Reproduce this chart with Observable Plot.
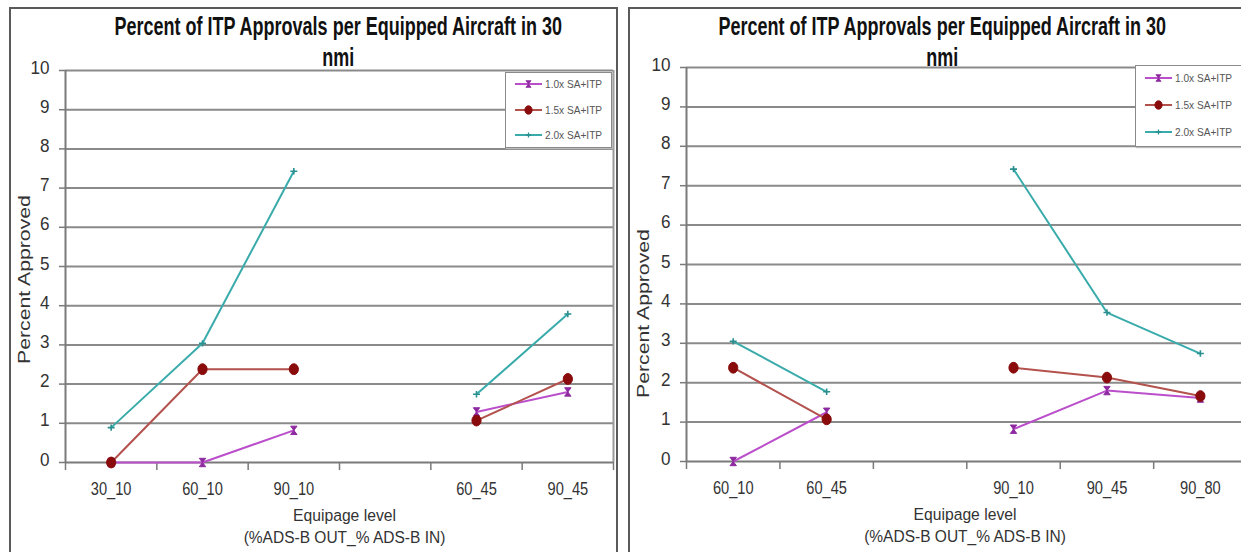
<!DOCTYPE html>
<html>
<head>
<meta charset="utf-8">
<script src="https://cdn.jsdelivr.net/npm/d3@7"></script>
<script src="https://cdn.jsdelivr.net/npm/@observablehq/plot@0.6"></script>
<style>
html,body{margin:0;padding:0;background:#fff;}
body{width:1241px;height:552px;overflow:hidden;position:relative;font-family:"Liberation Sans",Arial,Helvetica,sans-serif;}
.frame{position:absolute;border-left:2px solid #5a5a5a;border-top:2px solid #5a5a5a;border-right:2px solid #5a5a5a;box-sizing:border-box;}
.tline{position:absolute;width:700px;text-align:center;font-weight:bold;font-size:24px;line-height:24px;color:#111;white-space:nowrap;}
.tline span{display:inline-block;transform-origin:center center;}
.legend{position:absolute;border:1px solid #8a8a8a;background:#fff;box-shadow:1px 1px 1px #bbb;box-sizing:border-box;}
.lrow{position:absolute;left:9px;height:12px;display:flex;align-items:center;}
.lrow svg{display:block;}
.lrow span{font-size:11.5px;color:#555;display:inline-block;transform-origin:left center;transform:scaleX(0.88);white-space:nowrap;margin-left:3px;}
</style>
</head>
<body>
<script>
// ---------- data ----------
const seriesNames = ["1.0x SA+ITP", "1.5x SA+ITP", "2.0x SA+ITP"];
const seriesColors = ["#bb4fcb", "#b3514d", "#3aabab"];
const markerColors = ["#8e2aa0", "#8a0b0b", "#2a8f8f"];
const yTicks = [0, 1, 2, 3, 4, 5, 6, 7, 8, 9, 10];
const titleLine1 = "Percent of ITP Approvals per Equipped Aircraft in 30";
const titleLine2 = "nmi";
const yLabel = "Percent Approved";
const xLabel1 = "Equipage level";
const xLabel2 = "(%ADS-B OUT_% ADS-B IN)";

const leftCategories = ["30_10", "60_10", "90_10", "", "60_45", "90_45"];
const left10 = [0, 0, 0.82, null, 1.29, 1.8];
const left15 = [0, 2.38, 2.38, null, 1.07, 2.13];
const left20 = [0.89, 3.04, 7.43, null, 1.74, 3.79];

const rightCategories = ["60_10", "60_45", "", "90_10", "90_45", "90_80"];
const right10 = [0, 1.25, null, 0.82, 1.8, 1.61];
const right15 = [2.38, 1.07, null, 2.38, 2.13, 1.66];
const right20 = [3.05, 1.77, null, 7.42, 3.78, 2.74];

// ---------- marker symbols ----------
const hourglass = {draw(ctx) {
  ctx.moveTo(-3.2, -4.2); ctx.lineTo(3.2, -4.2); ctx.lineTo(-3.2, 4.2); ctx.lineTo(3.2, 4.2); ctx.closePath();
}};
const ellipse = {draw(ctx) {
  const rx = 4.6, ry = 5.4, k = 0.5523;
  ctx.moveTo(rx, 0);
  ctx.bezierCurveTo(rx, ry * k, rx * k, ry, 0, ry);
  ctx.bezierCurveTo(-rx * k, ry, -rx, ry * k, -rx, 0);
  ctx.bezierCurveTo(-rx, -ry * k, -rx * k, -ry, 0, -ry);
  ctx.bezierCurveTo(rx * k, -ry, rx, -ry * k, rx, 0);
  ctx.closePath();
}};
const plus = {draw(ctx) {
  ctx.moveTo(-3.5, 0); ctx.lineTo(3.5, 0); ctx.moveTo(0, -3.2); ctx.lineTo(0, 3.2);
}};
const symbols = [hourglass, ellipse, plus];

function squeeze(svg, targets) {
  for (const t of svg.querySelectorAll("text")) {
    const x = t.getAttribute("x"), y = t.getAttribute("y");
    let tr = t.getAttribute("transform") || "";
    if (x !== null || y !== null) {
      tr += ` translate(${+x || 0},${+y || 0})`;
      t.removeAttribute("x"); t.removeAttribute("y");
    }
    const rotated = /rotate/.test(tr);
    const g = t.closest("g[aria-label]");
    const lab = g ? g.getAttribute("aria-label") : "";
    let s = 0.82;
    if (/y-axis/.test(lab)) s = 0.9;
    else if (/x-axis/.test(lab)) s = 0.77;
    const txt = t.textContent;
    let along = rotated ? 1 : s;
    if (txt in targets) {
      const w = t.getBBox().width;
      if (w > 0) along = targets[txt] / w;
    }
    t.setAttribute("transform", `${tr} scale(${along},${rotated ? 0.8 : 1})`);
  }
}

function makePanel(cfg) {
  const {left, categories, series, marginLeft, marginTop, marginBottom, xDomain, plotEdge, yLabelDx, yLabelDy, xLabelDx, width} = cfg;
  const rows = [];
  series.forEach((vals, s) => vals.forEach((v, i) => rows.push({s, i, v})));
  const idx = categories.map((c, i) => i);
  const labelIdx = idx.filter(i => categories[i] !== "");
  const bounds = [...idx.map(i => i - 0.5), idx.length - 0.5];
  const marks = [
    Plot.ruleY(yTicks.slice(1), {stroke: "#8a8a8a", strokeWidth: 2}),
  ];
  if (plotEdge) marks.push(Plot.ruleX([bounds[bounds.length - 1]], {stroke: "#9a9a9a", strokeWidth: 2}));
  marks.push(
    Plot.ruleY([0], {stroke: "#7a7a7a", strokeWidth: 2}),
    Plot.ruleX([bounds[0]], {stroke: "#7a7a7a", strokeWidth: 2}),
    Plot.axisY({ticks: yTicks, tickSize: 6, tickFormat: () => "", stroke: "#7a7a7a", strokeWidth: 1.5, label: null}),
    Plot.axisY({ticks: yTicks, tickSize: 0, tickPadding: 16, dy: 3, fontSize: 19, fill: "#333", label: null}),
    Plot.axisX({ticks: bounds, tickSize: 8, tickFormat: () => "", stroke: "#7a7a7a", strokeWidth: 1.5, label: null}),
    Plot.axisX({ticks: labelIdx, tickSize: 0, tickPadding: 20, dy: 12, fontSize: 19, tickFormat: i => categories[i], fill: "#333", label: null})
  );
  series.forEach((vals, s) => {
    const d = rows.filter(r => r.s === s);
    marks.push(Plot.line(d, {x: "i", y: "v", stroke: seriesColors[s], strokeWidth: 2}));
  });
  series.forEach((vals, s) => {
    const d = rows.filter(r => r.s === s && r.v != null);
    marks.push(Plot.dot(d, {x: "i", y: "v", symbol: symbols[s], r: 4,
      fill: s === 2 ? "none" : markerColors[s], stroke: markerColors[s], strokeWidth: s === 2 ? 1.6 : 1}));
  });
  marks.push(
    Plot.text([yLabel], {text: d => d, frameAnchor: "left", rotate: -90, textAnchor: "middle", lineAnchor: "middle", dx: yLabelDx, dy: yLabelDy, fontSize: 20, fill: "#333"}),
    Plot.text([xLabel1], {text: d => d, frameAnchor: "bottom", textAnchor: "middle", lineAnchor: "middle", dx: xLabelDx, dy: 58, fontSize: 17, fill: "#333"}),
    Plot.text([xLabel2], {text: d => d, frameAnchor: "bottom", textAnchor: "middle", lineAnchor: "middle", dx: xLabelDx, dy: 80, fontSize: 17, fill: "#333"})
  );
  const svg = Plot.plot({
    width, height: 552,
    marginLeft, marginRight: cfg.marginRight, marginTop, marginBottom,
    x: {type: "linear", domain: xDomain},
    y: {domain: [0, 10]},
    style: {fontFamily: '"Liberation Sans", Arial, sans-serif', fontSize: "18px", background: "transparent", overflow: "hidden"},
    marks
  });
  svg.style.position = "absolute";
  svg.style.left = left + "px";
  svg.style.top = "0px";
  document.body.appendChild(svg);
  squeeze(svg, {[xLabel1]: 103, [xLabel2]: 202, [yLabel]: 169});
}

makePanel({left: 0, width: 620, categories: leftCategories, series: [left10, left15, left20],
  marginLeft: 65, marginRight: 7, marginTop: 70, marginBottom: 90, xDomain: [-0.5, 5.5], plotEdge: true,
  yLabelDx: -36, yLabelDy: 13, xLabelDx: 5});
makePanel({left: 620, width: 621, categories: rightCategories, series: [right10, right15, right20],
  marginLeft: 66, marginRight: 0, marginTop: 67, marginBottom: 91, xDomain: [-0.5, 5.44], plotEdge: false,
  yLabelDx: -38, yLabelDy: 49, xLabelDx: 1});

// ---------- frames ----------
function addDiv(cls, css, html) {
  const d = document.createElement("div");
  d.className = cls; d.style.cssText = css; if (html) d.innerHTML = html;
  document.body.appendChild(d); return d;
}
addDiv("frame", "left:9px;top:7px;width:609px;height:560px;");
addDiv("frame", "left:628px;top:7px;width:640px;height:560px;");

// ---------- titles ----------
function addTitle(cx) {
  const a = addDiv("tline", `left:${cx - 350}px;top:15px;`, `<span>${titleLine1}</span>`);
  const b = addDiv("tline", `left:${cx - 350}px;top:46px;`, `<span>${titleLine2}</span>`);
  const sa = a.querySelector("span"), sb = b.querySelector("span");
  const k = 448 / sa.offsetWidth;
  sa.style.transform = `scale(${k},1.05)`;
  sb.style.transform = `scale(${k},1.05)`;
}
addTitle(338);
addTitle(942);

// ---------- legends ----------
function swatch(s) {
  const p = d3.path(); symbols[s].draw(p);
  return `<svg width="27" height="12"><line x1="0" x2="27" y1="6" y2="6" stroke="${seriesColors[s]}" stroke-width="2"/>` +
    `<path transform="translate(13.5,6) scale(0.8)" d="${p}" fill="${s === 2 ? "none" : markerColors[s]}" stroke="${markerColors[s]}" stroke-width="${s === 2 ? 1.6 : 1}"/></svg>`;
}
function addLegend(x, y, w, h, rowTops) {
  const box = addDiv("legend", `left:${x}px;top:${y}px;width:${w}px;height:${h}px;`);
  seriesNames.forEach((n, s) => {
    const r = document.createElement("div");
    r.className = "lrow"; r.style.top = rowTops[s] + "px";
    r.innerHTML = swatch(s) + `<span>${n}</span>`;
    box.appendChild(r);
  });
}
addLegend(505, 72, 107, 76, [5, 31, 56]);
addLegend(1135, 65, 110, 82, [6, 33, 60]);
</script>
</body>
</html>
